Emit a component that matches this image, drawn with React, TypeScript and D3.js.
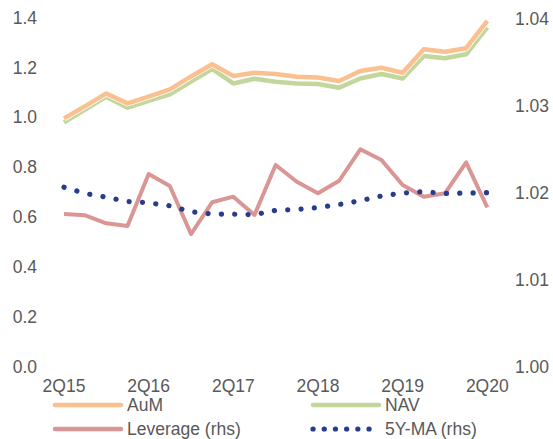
import React, { useEffect, useRef } from 'react';
import * as d3 from 'd3';

// quarters 2Q15 .. 2Q20
const quarters = [
  '2Q15', '3Q15', '4Q15', '1Q16', '2Q16', '3Q16', '4Q16', '1Q17', '2Q17', '3Q17', '4Q17',
  '1Q18', '2Q18', '3Q18', '4Q18', '1Q19', '2Q19', '3Q19', '4Q19', '1Q20', '2Q20',
];
const tickLabels = ['2Q15', '2Q16', '2Q17', '2Q18', '2Q19', '2Q20'];

const aum = [0.995, 1.044, 1.095, 1.055, 1.082, 1.111, 1.163, 1.212, 1.165, 1.178, 1.173,
  1.162, 1.159, 1.145, 1.185, 1.198, 1.178, 1.272, 1.262, 1.276, 1.386];
const nav = [0.979, 1.030, 1.082, 1.038, 1.065, 1.091, 1.142, 1.193, 1.135, 1.154, 1.142,
  1.135, 1.133, 1.118, 1.155, 1.173, 1.155, 1.245, 1.236, 1.252, 1.360];
const leverage = [1.01753, 1.01738, 1.01646, 1.01615, 1.02212, 1.02075, 1.01523, 1.01888,
  1.01952, 1.01742, 1.02316, 1.02124, 1.01991, 1.02135, 1.02496, 1.02373, 1.02086,
  1.01952, 1.01991, 1.02347, 1.0183];
const ma5y = [1.0206, 1.01989, 1.01946, 1.01896, 1.01882, 1.01847, 1.0178, 1.01753, 1.01751,
  1.01745, 1.01795, 1.01805, 1.01827, 1.01862, 1.01906, 1.0196, 1.01994, 1.02009, 1.01989,
  1.01994, 1.01998];

const leftTicks = [0, 0.2, 0.4, 0.6, 0.8, 1.0, 1.2, 1.4];
const rightTicks = [1.0, 1.01, 1.02, 1.03, 1.04];

const W = 553;
const H = 439;
const FONT = '"Liberation Sans", Arial, sans-serif';
const GREY = '#595959';
const C_AUM = '#FAC08F';
const C_NAV = '#C3D69B';
const C_LEV = '#D99694';
const C_MA = '#283C8C';

export default function App() {
  const ref = useRef<SVGSVGElement>(null);

  useEffect(() => {
    const svg = d3.select(ref.current);
    svg.selectAll('*').remove();

    const x = d3.scalePoint<string>().domain(quarters).range([64, 487.3]);
    const yL = d3.scaleLinear().domain([0, 1.4]).range([366.7, 17.3]);
    const yR = d3.scaleLinear().domain([1.0, 1.04]).range([366.7, 18.3]);

    const txt = (g: any) => g.attr('font-family', FONT).attr('font-size', 17.5).attr('fill', GREY);

    // left axis labels
    svg.append('g').call(txt)
      .selectAll('text').data(leftTicks).enter().append('text')
      .attr('x', 37).attr('y', (d) => yL(d)).attr('dy', '0.36em')
      .attr('text-anchor', 'end').text((d) => d.toFixed(1));

    // right axis labels
    svg.append('g').call(txt)
      .selectAll('text').data(rightTicks).enter().append('text')
      .attr('x', 515).attr('y', (d) => yR(d)).attr('dy', '0.36em')
      .text((d) => d.toFixed(2));

    // x labels
    svg.append('g').call(txt)
      .selectAll('text').data(tickLabels).enter().append('text')
      .attr('x', (d) => x(d)!).attr('y', 386).attr('dy', '0.36em')
      .attr('text-anchor', 'middle').text((d) => d);

    const lineL = d3.line<number>().x((_, i) => x(quarters[i])!).y((d) => yL(d));
    const lineR = d3.line<number>().x((_, i) => x(quarters[i])!).y((d) => yR(d));

    const plot = svg.append('g').attr('fill', 'none').attr('stroke-linejoin', 'round');

    plot.append('path').attr('d', lineR(leverage)!)
      .attr('stroke', C_LEV).attr('stroke-width', 4);
    plot.append('path').attr('d', lineR(ma5y)!)
      .attr('stroke', C_MA).attr('stroke-width', 5.2)
      .attr('stroke-linecap', 'round').attr('stroke-dasharray', '0.1 13.25');

    plot.append('path').attr('d', lineL(nav)!)
      .attr('stroke', C_NAV).attr('stroke-width', 4.5);
    plot.append('path').attr('d', lineL(aum)!)
      .attr('stroke', '#fff').attr('stroke-width', 6);
    plot.append('path').attr('d', lineL(aum)!)
      .attr('stroke', C_AUM).attr('stroke-width', 4.5);

    // legend
    const legend = [
      { name: 'AuM', color: C_AUM, x: 55, y: 405, dotted: false },
      { name: 'NAV', color: C_NAV, x: 313, y: 405, dotted: false },
      { name: 'Leverage (rhs)', color: C_LEV, x: 55, y: 429, dotted: false },
      { name: '5Y-MA (rhs)', color: C_MA, x: 313, y: 429, dotted: true },
    ];
    const lg = svg.append('g');
    legend.forEach((l) => {
      const ln = lg.append('line')
        .attr('x1', l.x).attr('x2', l.x + 66).attr('y1', l.y).attr('y2', l.y)
        .attr('stroke', l.color).attr('stroke-linecap', 'round');
      if (l.dotted) {
        ln.attr('stroke-width', 5.2).attr('stroke-dasharray', '0.1 11.1');
      } else {
        ln.attr('stroke-width', 4.5);
      }
      lg.append('text').call(txt)
        .attr('x', l.x + 72).attr('y', l.y).attr('dy', '0.36em').text(l.name);
    });
  }, []);

  return (
    <svg ref={ref} width={W} height={H}
      style={{ position: 'absolute', left: 0, top: 0, background: '#fff' }} />
  );
}
